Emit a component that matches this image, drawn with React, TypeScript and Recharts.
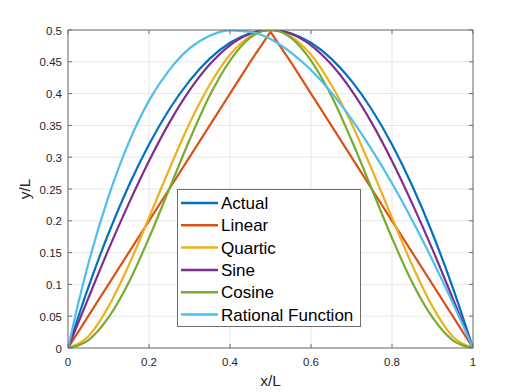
import React from 'react';
import { LineChart, Line, XAxis, YAxis, CartesianGrid, Legend } from 'recharts';

const xGrid = [0, 0.05, 0.1, 0.15, 0.2, 0.25, 0.3, 0.35, 0.4, 0.45, 0.5, 0.55, 0.6, 0.65, 0.7, 0.75, 0.8, 0.85, 0.9, 0.95, 1];
const actualY = [0, 0.095, 0.18, 0.255, 0.32, 0.375, 0.42, 0.455, 0.48, 0.495, 0.5, 0.495, 0.48, 0.455, 0.42, 0.375, 0.32, 0.255, 0.18, 0.095, 0];
const linearY = [0, 0.05, 0.1, 0.15, 0.2, 0.25, 0.3, 0.35, 0.4, 0.45, 0.497, 0.45, 0.4, 0.35, 0.3, 0.25, 0.2, 0.15, 0.1, 0.05, 0];
const quarticY = [0, 0.018, 0.065, 0.13, 0.205, 0.281, 0.353, 0.414, 0.461, 0.49, 0.5, 0.49, 0.461, 0.414, 0.353, 0.281, 0.205, 0.13, 0.065, 0.018, 0];
const sineY = [0, 0.078, 0.155, 0.227, 0.294, 0.354, 0.405, 0.446, 0.476, 0.494, 0.5, 0.494, 0.476, 0.446, 0.405, 0.354, 0.294, 0.227, 0.155, 0.078, 0];
const cosineY = [0, 0.012, 0.048, 0.103, 0.173, 0.25, 0.327, 0.397, 0.452, 0.488, 0.5, 0.488, 0.452, 0.397, 0.327, 0.25, 0.173, 0.103, 0.048, 0.012, 0];
const rationalX = [0, 0.025, 0.05, 0.1, 0.15, 0.2, 0.25, 0.3, 0.35, 0.4, 0.45, 0.5, 0.55, 0.6, 0.65, 0.7, 0.75, 0.8, 0.85, 0.9, 0.95, 0.975, 1];
const rationalY = [0, 0.069, 0.132, 0.238, 0.323, 0.389, 0.437, 0.471, 0.491, 0.4995, 0.497, 0.486, 0.465, 0.437, 0.402, 0.36, 0.312, 0.259, 0.201, 0.138, 0.071, 0.036, 0];

const seriesNames = ['Actual', 'Linear', 'Quartic', 'Sine', 'Cosine', 'Rational Function'];
const seriesColors = ['#0072BD', '#D95319', '#EDB120', '#7E2F8E', '#77AC30', '#4DBEEE'];

const xTicks = [0, 0.2, 0.4, 0.6, 0.8, 1];
const xTickLabels = ['0', '0.2', '0.4', '0.6', '0.8', '1'];
const yTicks = [0, 0.05, 0.1, 0.15, 0.2, 0.25, 0.3, 0.35, 0.4, 0.45, 0.5];
const yTickLabels = ['0', '0.05', '0.1', '0.15', '0.2', '0.25', '0.3', '0.35', '0.4', '0.45', '0.5'];

const toRows = (xs: number[], ys: number[]) => xs.map((x, i) => ({ x, y: ys[i] }));
const seriesData = [
  toRows(xGrid, actualY),
  toRows(xGrid, linearY),
  toRows(xGrid, quarticY),
  toRows(xGrid, sineY),
  toRows(xGrid, cosineY),
  toRows(rationalX, rationalY),
];

const FONT = '"Liberation Sans", Arial, Helvetica, sans-serif';
const AXIS = '#6e6e6e';
const TXT = '#262626';

const labelFor = (ticks: number[], labels: string[], v: number) => {
  const i = ticks.findIndex((t) => Math.abs(t - v) < 1e-9);
  return i >= 0 ? labels[i] : String(v);
};

const BottomTick = (p: any) => (
  <g>
    <line x1={p.x} y1={p.y} x2={p.x} y2={p.y - 4} stroke={AXIS} />
    <text x={p.x} y={p.y + 18} textAnchor="middle" fontSize={11.5} fontFamily={FONT} fill={TXT}>
      {labelFor(xTicks, xTickLabels, p.payload.value)}
    </text>
  </g>
);
const TopTick = (p: any) => (
  <line x1={p.x} y1={p.y} x2={p.x} y2={p.y + 4} stroke={AXIS} />
);
const LeftTick = (p: any) => (
  <g>
    <line x1={p.x} y1={p.y} x2={p.x + 4} y2={p.y} stroke={AXIS} />
    <text x={p.x - 6} y={p.y + 4.5} textAnchor="end" fontSize={11.5} fontFamily={FONT} fill={TXT}>
      {labelFor(yTicks, yTickLabels, p.payload.value)}
    </text>
  </g>
);
const RightTick = (p: any) => (
  <line x1={p.x} y1={p.y} x2={p.x - 4} y2={p.y} stroke={AXIS} />
);

const XLabel = (props: any) => {
  const vb = props.viewBox || {};
  return (
    <text x={vb.x + vb.width / 2} y={386} textAnchor="middle" fontSize={15.5} fontFamily={FONT} fill={TXT}>
      x/L
    </text>
  );
};
const YLabel = (props: any) => {
  const vb = props.viewBox || {};
  const cy = vb.y + vb.height / 2;
  return (
    <text x={30} y={cy} transform={`rotate(-90, 30, ${cy})`} textAnchor="middle" fontSize={15.5} fontFamily={FONT} fill={TXT}>
      y/L
    </text>
  );
};

const LegendBox = () => (
  <svg width={184} height={138} style={{ display: 'block' }}>
    <rect x={0.5} y={0.5} width={183} height={137} fill="#fff" stroke={AXIS} />
    {seriesNames.map((n, i) => {
      const cy = 14 + 22.3 * i;
      return (
        <g key={n}>
          <line x1={4} y1={cy} x2={41} y2={cy} stroke={seriesColors[i]} strokeWidth={2.5} />
          <text x={44} y={cy + 6} fontSize={17} fontFamily={FONT} fill="#000">
            {n}
          </text>
        </g>
      );
    })}
  </svg>
);

export default function App() {
  return (
    <div style={{ position: 'absolute', left: 0, top: 0, width: 523, height: 392, background: '#fff' }}>
      <LineChart width={523} height={392} margin={{ top: 29, right: 49, bottom: 0, left: 0 }}>
        <CartesianGrid stroke="#e6e6e6" strokeDasharray="" />
        <XAxis
          dataKey="x"
          type="number"
          domain={[0, 1]}
          ticks={xTicks}
          height={44}
          tickSize={0}
          tickMargin={0}
          tickLine={false}
          tick={<BottomTick />}
          stroke={AXIS}
          allowDataOverflow
          label={<XLabel />}
        />
        <XAxis
          xAxisId="top"
          orientation="top"
          dataKey="x"
          type="number"
          domain={[0, 1]}
          ticks={xTicks}
          height={1}
          tickSize={0}
          tickMargin={0}
          tickLine={false}
          tick={<TopTick />}
          stroke={AXIS}
          allowDataOverflow
        />
        <YAxis
          type="number"
          domain={[0, 0.5]}
          ticks={yTicks}
          width={68}
          tickSize={0}
          tickMargin={0}
          tickLine={false}
          tick={<LeftTick />}
          stroke={AXIS}
          allowDataOverflow
          label={<YLabel />}
        />
        <YAxis
          yAxisId="right"
          orientation="right"
          type="number"
          domain={[0, 0.5]}
          ticks={yTicks}
          width={1}
          tickSize={0}
          tickMargin={0}
          tickLine={false}
          tick={<RightTick />}
          stroke={AXIS}
          allowDataOverflow
        />
        {seriesData.map((d, i) => (
          <Line
            key={seriesNames[i]}
            data={d}
            dataKey="y"
            name={seriesNames[i]}
            type={i === 1 ? 'linear' : 'monotone'}
            stroke={seriesColors[i]}
            strokeWidth={2.2}
            dot={false}
            activeDot={false}
            isAnimationActive={false}
          />
        ))}
        <Legend
          layout="vertical"
          align="center"
          verticalAlign="middle"
          content={() => <LegendBox />}
          wrapperStyle={{ left: 177, top: 189, width: 184, height: 138 }}
        />
      </LineChart>
    </div>
  );
}
